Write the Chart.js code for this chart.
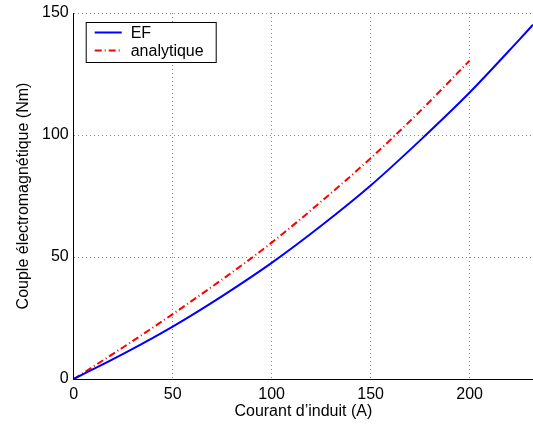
<!DOCTYPE html>
<html>
<head>
<meta charset="utf-8">
<script src="https://cdn.jsdelivr.net/npm/chart.js@4"></script>
<style>
  html, body { margin: 0; padding: 0; background: #fff; }
  #wrap { width: 533px; height: 428px; }
</style>
</head>
<body>
<div id="wrap"><canvas id="torqueChart" width="533" height="428"></canvas></div>
<script>
// courant d'induit (A) et couple (Nm)
const courantEF = [0, 25, 50, 75, 100, 125, 150, 175, 200, 225, 232];
const coupleEF = [0, 10.3, 21.5, 34.0, 47.6, 62.8, 79.3, 97.8, 117.4, 139.0, 145.2];
const courantAna = [0, 25, 50, 75, 100, 125, 150, 175, 200];
const coupleAna = [0, 13.0, 26.6, 40.8, 55.9, 72.7, 90.5, 109.8, 130.5];
const xTicks = [0, 50, 100, 150, 200];
const yTicks = [0, 50, 100, 150];

const toPoints = (xs, ys) => xs.map((x, i) => ({ x: x, y: ys[i] }));

// legend box drawn inside the plot, matlab style
const boxLegend = {
    id: 'boxLegend',
    afterDatasetsDraw(chart) {
        const ctx = chart.ctx;
        const area = chart.chartArea;
        const x0 = area.left + 12, y0 = area.top + 9;
        const w = 130, h = 40;
        ctx.save();
        ctx.fillStyle = '#fff';
        ctx.fillRect(x0, y0, w, h);
        ctx.strokeStyle = '#000';
        ctx.lineWidth = 1;
        ctx.strokeRect(x0 + 0.5, y0 + 0.5, w, h);
        ctx.font = '16px "Liberation Sans", Arial, sans-serif';
        ctx.textBaseline = 'middle';
        chart.data.datasets.forEach((ds, i) => {
            const yy = y0 + 10.5 + i * 18;
            ctx.strokeStyle = ds.borderColor;
            ctx.lineWidth = ds.borderWidth;
            ctx.setLineDash(ds.borderDash || []);
            ctx.beginPath();
            ctx.moveTo(x0 + 9, yy);
            ctx.lineTo(x0 + 36, yy);
            ctx.stroke();
            ctx.setLineDash([]);
            ctx.fillStyle = '#000';
            ctx.fillText(ds.label, x0 + 45, yy + 1);
        });
        ctx.restore();
    }
};

const fontBase = { family: '"Liberation Sans", Arial, sans-serif', size: 16, lineHeight: 1 };

new Chart(document.getElementById('torqueChart').getContext('2d'), {
    type: 'scatter',
    data: {
        datasets: [
            {
                label: 'EF',
                data: toPoints(courantEF, coupleEF),
                showLine: true,
                borderColor: '#0000ff',
                borderWidth: 2,
                pointRadius: 0,
                cubicInterpolationMode: 'monotone',
            },
            {
                label: 'analytique',
                data: toPoints(courantAna, coupleAna),
                showLine: true,
                borderColor: '#ff0000',
                borderWidth: 2,
                borderDash: [7, 3, 1, 3],
                pointRadius: 0,
                cubicInterpolationMode: 'monotone',
            },
        ],
    },
    options: {
        responsive: false,
        animation: false,
        layout: { padding: { top: 12, right: 0, bottom: 8, left: 16 } },
        plugins: {
            legend: { display: false },
            tooltip: { enabled: false },
        },
        scales: {
            x: {
                type: 'linear',
                min: 0,
                max: 232,
                afterBuildTicks: (axis) => { axis.ticks = xTicks.map(v => ({ value: v })); },
                ticks: { color: '#000', font: fontBase, padding: 8, maxRotation: 0 },
                grid: { color: '#888', drawTicks: false, lineWidth: 1 },
                border: { display: true, color: '#000', width: 1, dash: [1, 3] },
                title: { display: true, text: 'Courant d\u2019induit (A)', color: '#000', font: fontBase, padding: { top: -7, bottom: 0 } },
            },
            y: {
                type: 'linear',
                min: 0,
                max: 150,
                afterBuildTicks: (axis) => { axis.ticks = yTicks.map(v => ({ value: v })); },
                ticks: { color: '#000', font: fontBase, padding: 5 },
                grid: { color: '#888', drawTicks: false, lineWidth: 1 },
                border: { display: true, color: '#000', width: 1, dash: [1, 3] },
                title: { display: true, text: 'Couple \u00e9lectromagn\u00e9tique (Nm)', color: '#000', font: fontBase, padding: { top: 0, bottom: 5 } },
            },
        },
    },
    plugins: [boxLegend],
});
</script>
</body>
</html>
